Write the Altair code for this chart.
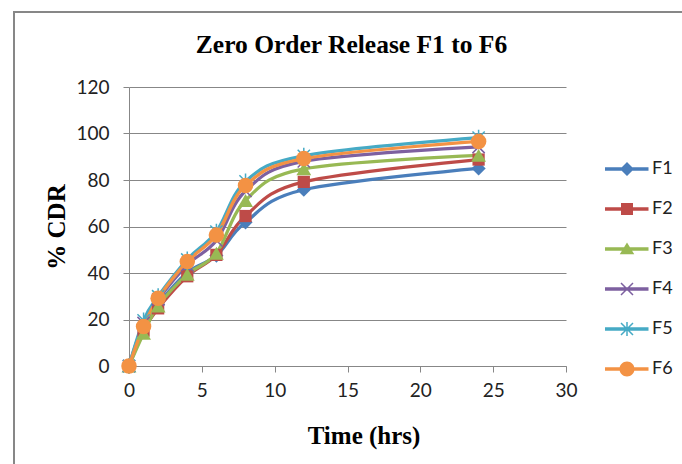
import altair as alt
import pandas as pd

# Dissolution time points (hrs) and cumulative drug release (%) per formulation
time_hrs = [0, 1, 2, 4, 6, 8, 12, 24]
series_names = ["F1", "F2", "F3", "F4", "F5", "F6"]
f1 = [0, 16.5, 26.5, 40.2, 47.5, 61.8, 75.8, 85.0]
f2 = [0, 15.2, 24.8, 38.6, 47.8, 64.5, 79.2, 88.8]
f3 = [0, 14.0, 25.8, 39.4, 48.5, 71.2, 84.8, 90.6]
f4 = [0, 18.5, 28.6, 43.5, 54.0, 75.3, 88.0, 94.2]
f5 = [0, 19.6, 30.0, 45.8, 57.8, 79.4, 90.4, 98.2]
f6 = [0, 17.0, 29.1, 44.9, 56.3, 77.6, 89.2, 96.6]
series_colors = ["#4A7EBB", "#BE4B48", "#98B954", "#7D60A0", "#46AAC5", "#F39244"]
x_ticks = [0, 5, 10, 15, 20, 25, 30]
y_ticks = [0, 20, 40, 60, 80, 100, 120]

rows = []
for name, vals in zip(series_names, [f1, f2, f3, f4, f5, f6]):
    for t, v in zip(time_hrs, vals):
        rows.append({"time": t, "cdr": v, "series": name})
df = pd.DataFrame(rows)

W, H = 437, 279
LEFT, TOP = 129, 87
GRID = "#878787"
LABEL_FONT = "Lato"
SERIF = "Liberation Serif"

x_enc = alt.X(
    "time:Q",
    scale=alt.Scale(domain=[0, 30], nice=False),
    axis=alt.Axis(
        values=x_ticks, grid=False, domainColor=GRID, tickColor=GRID, tickSize=6,
        labelFont=LABEL_FONT, labelFontSize=19, labelColor="#222222", labelPadding=9,
        labelFlush=False,
        title="Time (hrs)", titleFont=SERIF, titleFontSize=25, titleFontWeight="bold",
        titleColor="black", titleX=234.5, titleY=77, titleBaseline="alphabetic",
        titleAlign="center",
    ),
)
y_enc = alt.Y(
    "cdr:Q",
    scale=alt.Scale(domain=[0, 120], nice=False),
    axis=alt.Axis(
        values=y_ticks, grid=True, gridColor=GRID, gridWidth=1, domainColor=GRID,
        tickColor=GRID, tickSize=6, labelFont=LABEL_FONT, labelFontSize=19,
        labelColor="#222222", labelPadding=14, labelFlush=False,
        title="% CDR", titleFont=SERIF, titleFontSize=25, titleFontWeight="bold",
        titleColor="black", titleX=-73, titleY=H / 2, titleAngle=270,
        titleAlign="center", titleBaseline="middle",
    ),
)

legend_def = alt.Legend(
    title=None, orient="none", legendX=489, legendY=73,
    symbolSize=100, symbolStrokeWidth=0, labelFont=LABEL_FONT, labelFontSize=18,
    labelColor="#222222", labelOffset=16, rowPadding=22,
)
color_enc = alt.Color(
    "series:N",
    scale=alt.Scale(domain=series_names, range=series_colors),
    legend=legend_def,
)

base = alt.Chart(df)

lines = base.mark_line(interpolate="cardinal", strokeWidth=3.25).encode(
    x=x_enc, y=y_enc, color=color_enc
)

# Marker drawn at each sample point, one style per formulation
marker_styles = {
    "F1": dict(shape="diamond", size=200, filled=True),
    "F2": dict(shape="square", size=150, filled=True),
    "F3": dict(shape="triangle-up", size=220, filled=True),
    "F4": dict(shape="M-1,-1L1,1M-1,1L1,-1", size=150, filled=False, strokeWidth=1.5),
    "F5": dict(shape="M-1,-1L1,1M-1,1L1,-1M0,-1.3L0,1.3", size=150, filled=False,
               strokeWidth=1.5),
    "F6": dict(shape="circle", size=240, filled=True),
}
marker_layers = [
    base.mark_point(opacity=1, **marker_styles[name])
    .encode(x=x_enc, y=y_enc, color=color_enc)
    .transform_filter(alt.datum.series == name)
    for name in series_names
]

# Legend glyphs: a line segment with the series marker on top (unit path coords)
seg = "M-4.4,-0.33H4.3V0.33H-4.4Z"
x_arms = ("M-1.094,-1.306L1.306,1.094L1.094,1.306L-1.306,-1.094Z"
          "M1.094,-1.306L1.306,-1.094L-1.094,1.306L-1.306,1.094Z")
legend_paths = [
    seg + "M0,-1.4L1.4,0L0,1.4L-1.4,0Z",
    seg + "M-1.2,-1.2H1.2V1.2H-1.2Z",
    seg + "M0,-1.3L1.45,1.05L-1.45,1.05Z",
    seg + x_arms,
    seg + x_arms + "M-0.15,-1.4H0.15V1.4H-0.15Z",
    seg + "M-1.5,0A1.5,1.5 0 1,1 1.5,0A1.5,1.5 0 1,1 -1.5,0Z",
]
legend_layer = (
    base.mark_point(filled=True, opacity=1, strokeWidth=0)
    .encode(
        x=x_enc, y=y_enc, color=color_enc,
        shape=alt.Shape(
            "series:N",
            scale=alt.Scale(domain=series_names, range=legend_paths),
            legend=legend_def,
        ),
    )
    .transform_filter("datum.time < 0")
)

# Chart-area frame along the left and top edges
frame_src = alt.Chart(pd.DataFrame({"k": [0]}))
frame_top = frame_src.mark_rule(color=GRID, strokeWidth=2).encode(
    x=alt.value(14 - LEFT), x2=alt.value(700 - LEFT), y=alt.value(12 - TOP)
)
frame_left = frame_src.mark_rule(color=GRID, strokeWidth=2).encode(
    x=alt.value(14 - LEFT), y=alt.value(11 - TOP), y2=alt.value(480 - TOP)
)

chart = (
    alt.layer(frame_top, frame_left, lines, *marker_layers, legend_layer)
    .properties(
        width=W,
        height=H,
        autosize=alt.AutoSizeParams(type="none"),
        padding={"left": LEFT, "top": TOP, "right": 682 - LEFT - W, "bottom": 464 - TOP - H},
        background="white",
        title=alt.TitleParams(
            "Zero Order Release F1 to F6", font=SERIF, fontSize=25.5, fontWeight="bold",
            color="black", anchor="middle", dx=4, offset=-68, baseline="alphabetic",
        ),
    )
    .configure_view(strokeWidth=0)
)

chart.save("out.html", embed_options={"renderer": "svg", "actions": False})
